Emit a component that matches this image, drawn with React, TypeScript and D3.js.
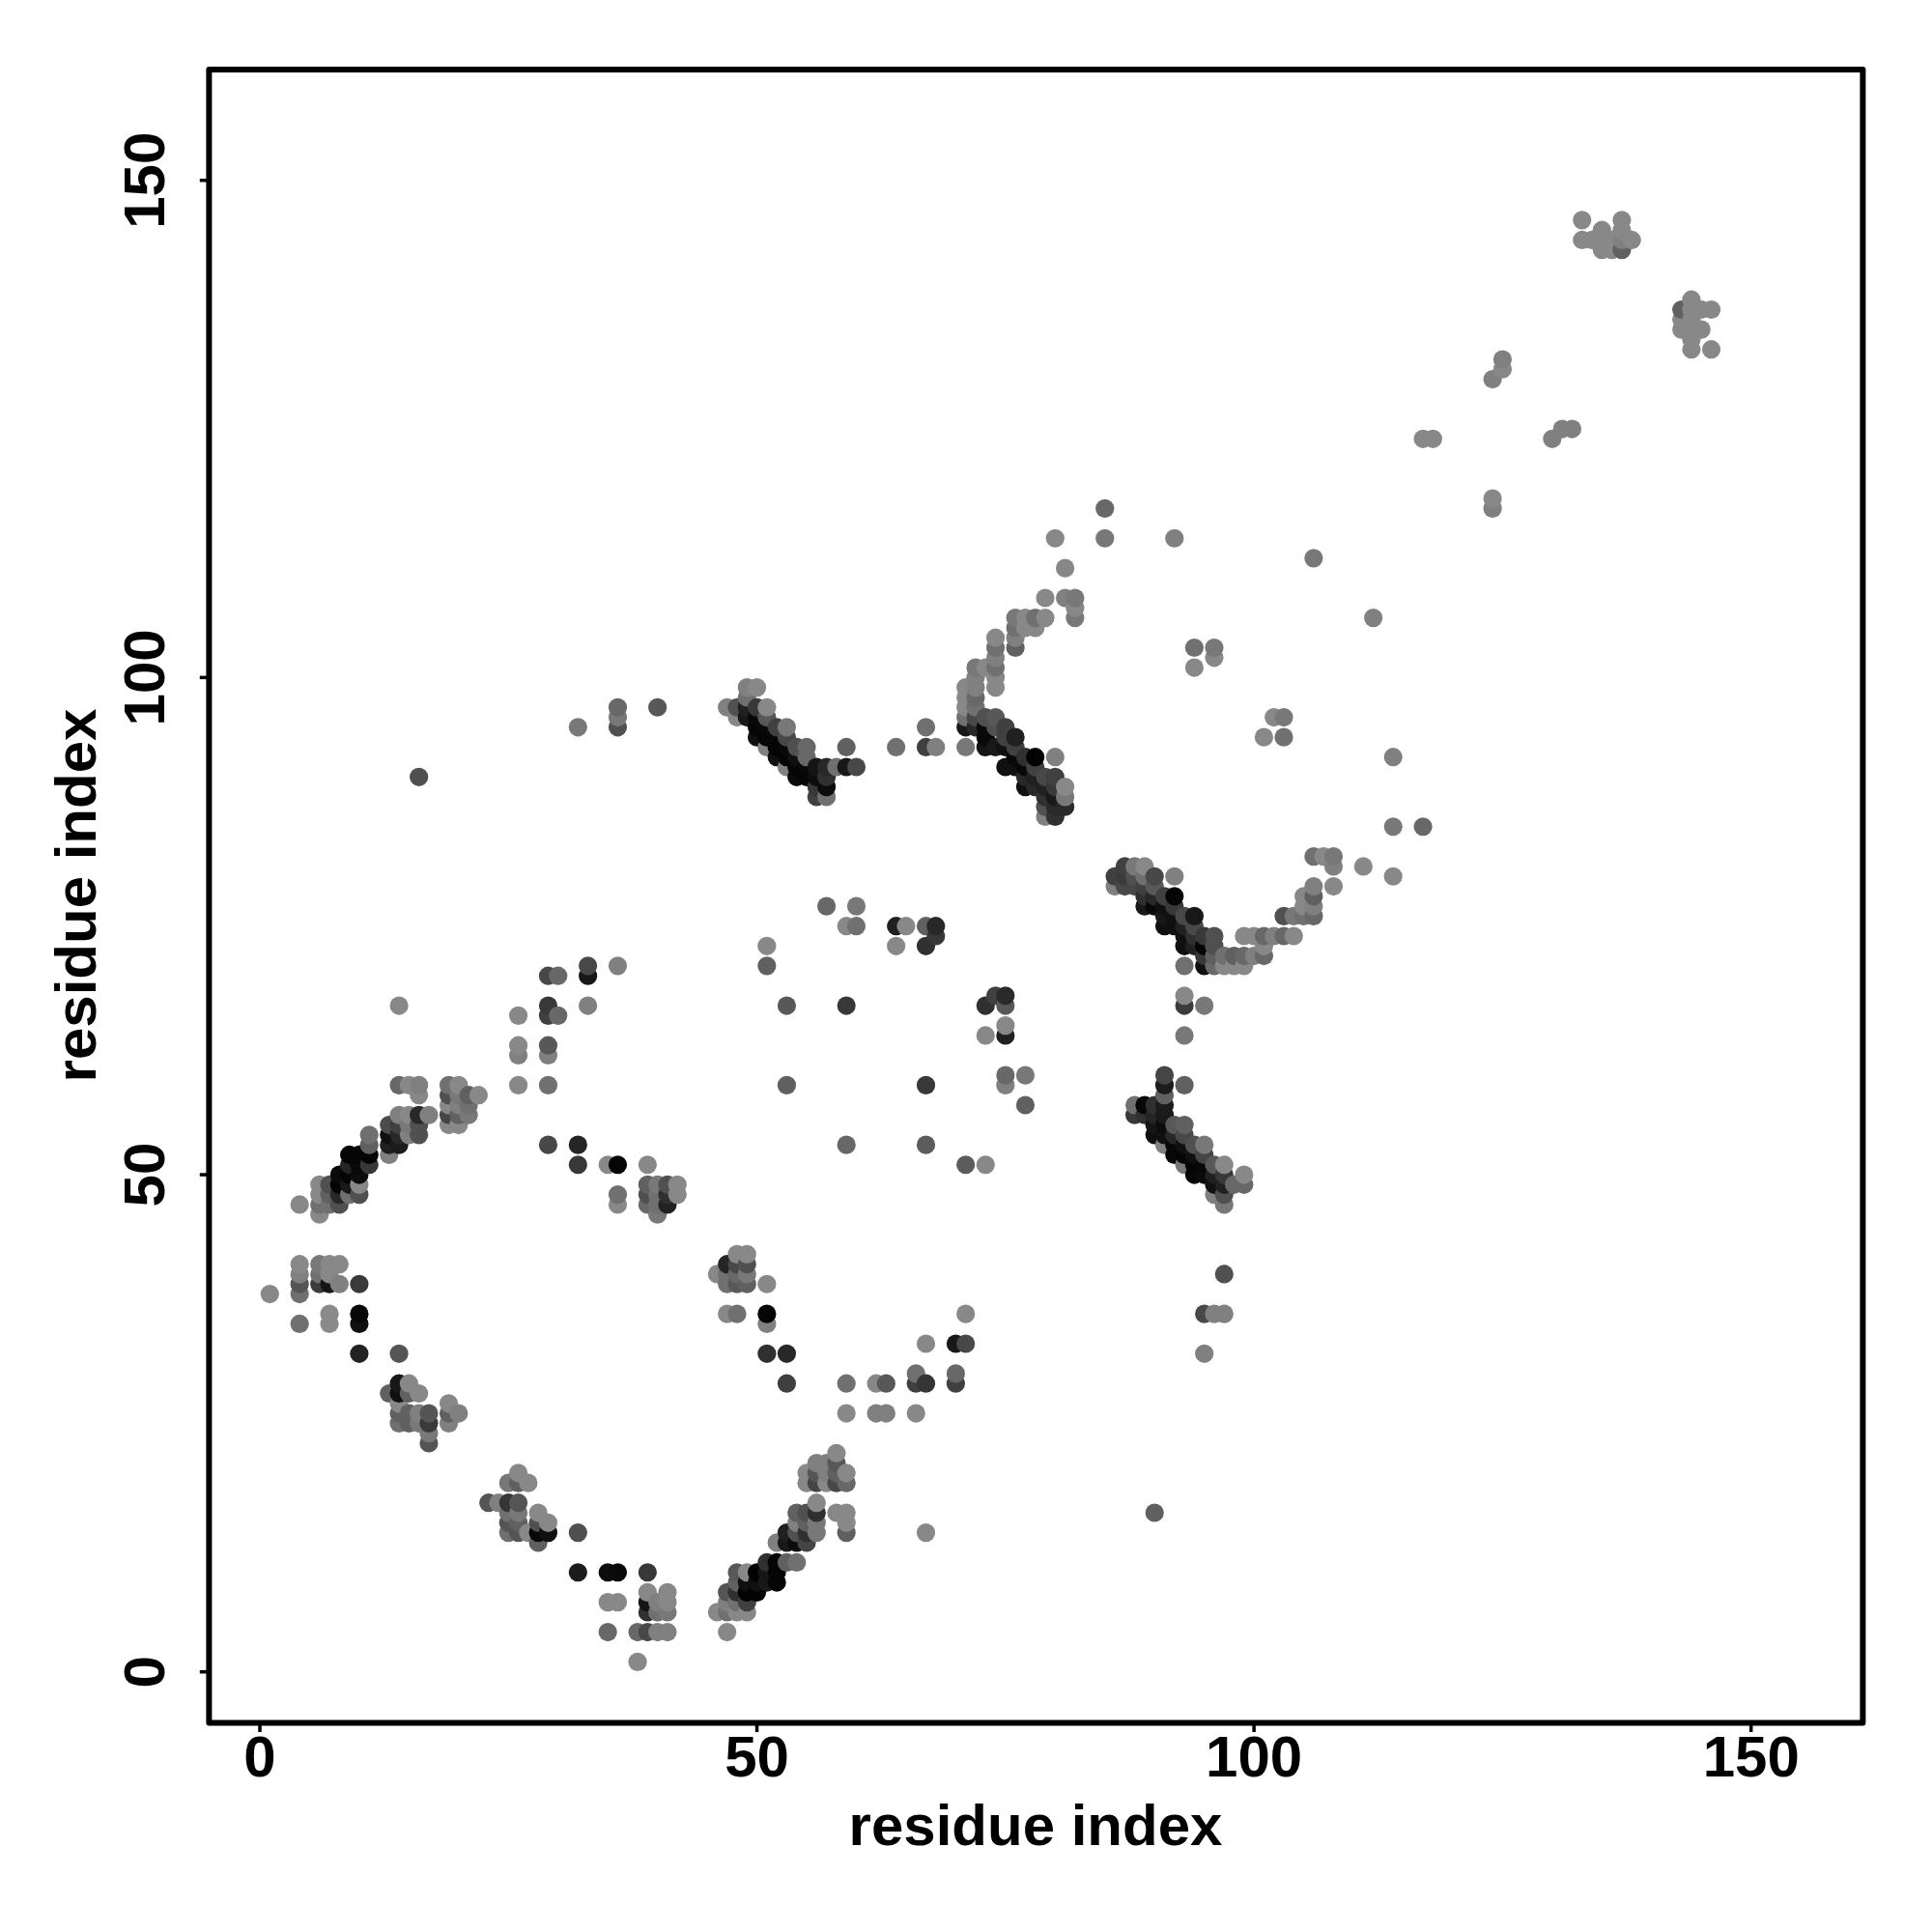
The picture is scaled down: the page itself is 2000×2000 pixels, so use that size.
import React from "react";
import * as d3 from "d3";

const xTicks = [0, 50, 100, 150];
const yTicks = [0, 50, 100, 150];
const xTitle = "residue index";
const yTitle = "residue index";

// [residue i, residue j, grey level]
const contacts: [number, number, number][] = [
  [1,38,0x88],
  [4,35,0x70],[4,38,0x70],[4,39,0x55],[4,40,0x80],[4,41,0x88],[4,47,0x88],
  [6,39,0x3c],[6,40,0x70],[6,41,0x78],[6,46,0x88],[6,47,0x70],[6,48,0x88],[6,49,0x88],
  [7,35,0x8a],[7,36,0x8a],[7,39,0x15],[7,40,0x88],[7,41,0x88],[7,47,0x70],[7,48,0x60],[7,49,0x50],
  [8,39,0x80],[8,41,0x88],[8,47,0x50],[8,48,0x28],[8,49,0x05],[8,50,0x0a],
  [9,48,0x70],[9,49,0x18],[9,50,0x05],[9,51,0x25],[9,52,0x05],
  [10,32,0x22],[10,35,0x10],[10,36,0x08],[10,39,0x3a],[10,48,0x50],[10,49,0x88],[10,50,0x0c],[10,51,0x08],[10,52,0x05],
  [11,51,0x38],[11,52,0x05],[11,53,0x60],[11,54,0x70],
  [13,28,0x60],[13,52,0x80],[13,53,0x20],[13,54,0x10],[13,55,0x4c],
  [14,25,0x70],[14,26,0x60],[14,27,0x88],[14,28,0x10],[14,29,0x18],[14,32,0x55],[14,53,0x1c],[14,54,0x28],[14,55,0x40],[14,56,0x80],[14,59,0x68],[14,67,0x88],
  [15,25,0x60],[15,26,0x60],[15,28,0x60],[15,29,0x88],[15,54,0x80],[15,55,0x78],[15,56,0x88],[15,59,0x88],
  [16,25,0x78],[16,26,0x80],[16,28,0x88],[16,54,0x50],[16,55,0x50],[16,56,0x28],[16,58,0x88],[16,59,0x80],[16,90,0x50],
  [17,23,0x55],[17,24,0x78],[17,25,0x3a],[17,26,0x55],[17,56,0x80],
  [19,25,0x80],[19,26,0x60],[19,27,0x88],[19,55,0x88],[19,56,0x45],[19,57,0x88],[19,58,0x50],[19,59,0x70],
  [20,26,0x80],[20,55,0x88],[20,56,0x60],[20,57,0x80],[20,58,0x78],[20,59,0x88],
  [21,56,0x78],[21,57,0x70],[21,58,0x60],
  [22,58,0x88],
  [23,17,0x55],
  [24,17,0x80],
  [25,14,0x70],[25,15,0x55],[25,16,0x70],[25,17,0x35],[25,19,0x78],
  [26,14,0x55],[26,15,0x60],[26,16,0x78],[26,17,0x55],[26,19,0x60],[26,20,0x88],[26,59,0x88],[26,62,0x80],[26,63,0x88],[26,66,0x88],
  [27,14,0x88],[27,19,0x88],
  [28,13,0x60],[28,14,0x08],[28,15,0x50],[28,16,0x88],
  [29,14,0x10],[29,15,0x88],[29,53,0x48],[29,59,0x70],[29,62,0x80],[29,63,0x58],[29,66,0x40],[29,67,0x38],[29,70,0x48],
  [30,66,0x68],[30,70,0x68],
  [32,10,0x1c],[32,14,0x50],[32,51,0x38],[32,53,0x25],[32,95,0x78],
  [33,67,0x80],[33,70,0x18],[33,71,0x48],
  [35,4,0x68],[35,7,0x88],[35,10,0x0c],[35,51,0x88],
  [36,7,0x88],[36,10,0x0a],[36,47,0x88],[36,48,0x70],[36,51,0x05],[36,71,0x80],[36,95,0x50],[36,96,0x78],[36,97,0x68],
  [38,1,0x88],[38,4,0x68],
  [39,4,0x48],[39,6,0x30],[39,7,0x15],[39,8,0x88],[39,10,0x38],[39,47,0x68],[39,48,0x50],[39,49,0x60],[39,51,0x88],
  [40,4,0x80],[40,6,0x70],[40,7,0x80],[40,46,0x78],[40,47,0x70],[40,48,0x70],[40,49,0x78],[40,97,0x58],
  [41,4,0x80],[41,6,0x78],[41,7,0x88],[41,8,0x88],[41,47,0x22],[41,48,0x30],[41,49,0x50],
  [42,48,0x88],[42,49,0x88],
  [46,6,0x88],[46,40,0x88],
  [47,4,0x88],[47,6,0x70],[47,7,0x80],[47,8,0x55],[47,36,0x88],[47,39,0x70],[47,40,0x70],[47,41,0x25],[47,97,0x80],
  [48,6,0x88],[48,7,0x70],[48,8,0x30],[48,9,0x60],[48,10,0x58],[48,36,0x70],[48,39,0x58],[48,40,0x68],[48,41,0x48],[48,42,0x88],[48,96,0x88],[48,97,0x50],
  [49,6,0x88],[49,7,0x40],[49,8,0x03],[49,9,0x10],[49,10,0x88],[49,39,0x60],[49,40,0x78],[49,41,0x50],[49,42,0x88],[49,96,0x18],[49,97,0x20],[49,98,0x70],[49,99,0x80],
  [50,8,0x03],[50,9,0x10],[50,10,0x02],[50,94,0x10],[50,95,0x05],[50,96,0x08],[50,97,0x38],[50,99,0x88],
  [51,9,0x18],[51,10,0x15],[51,11,0x30],[51,32,0x30],[51,35,0x80],[51,36,0x05],[51,39,0x88],[51,71,0x60],[51,73,0x88],[51,93,0x80],[51,94,0x05],[51,95,0x08],[51,96,0x58],[51,97,0x88],
  [52,9,0x05],[52,10,0x05],[52,11,0x05],[52,13,0x80],[52,92,0x10],[52,93,0x05],[52,94,0x05],[52,95,0x40],
  [53,11,0x60],[53,13,0x18],[53,14,0x20],[53,29,0x40],[53,32,0x28],[53,59,0x60],[53,67,0x58],[53,91,0x80],[53,92,0x05],[53,93,0x08],[53,94,0x48],[53,95,0x78],
  [54,11,0x70],[54,13,0x0c],[54,14,0x50],[54,15,0x80],[54,16,0x60],[54,90,0x0a],[54,91,0x05],[54,92,0x10],[54,93,0x50],
  [55,13,0x45],[55,14,0x30],[55,15,0x60],[55,16,0x50],[55,19,0x88],[55,20,0x88],[55,90,0x05],[55,91,0x08],[55,92,0x68],[55,93,0x68],
  [56,14,0x78],[56,15,0x78],[56,16,0x30],[56,17,0x88],[56,19,0x45],[56,20,0x55],[56,21,0x80],[56,88,0x40],[56,89,0x38],[56,90,0x0c],[56,91,0x15],
  [57,19,0x88],[57,20,0x80],[57,21,0x80],[57,77,0x68],[57,88,0x70],[57,89,0x0c],[57,90,0x30],[57,91,0x28],
  [58,16,0x88],[58,19,0x48],[58,20,0x60],[58,21,0x58],[58,22,0x88],[58,91,0x70],
  [59,14,0x60],[59,15,0x88],[59,16,0x88],[59,19,0x68],[59,20,0x88],[59,26,0x88],[59,29,0x70],[59,53,0x68],[59,67,0x38],[59,75,0x88],[59,91,0x18],[59,93,0x60],
  [60,75,0x70],[60,77,0x78],[60,91,0x48],
  [62,26,0x80],[62,29,0x88],
  [63,26,0x80],[63,29,0x58],
  [64,73,0x88],[64,75,0x20],[64,93,0x70],
  [65,75,0x88],
  [66,26,0x88],[66,29,0x40],[66,30,0x70],
  [67,14,0x88],[67,29,0x35],[67,33,0x88],[67,53,0x5c],[67,59,0x38],[67,73,0x30],[67,75,0x60],[67,93,0x40],[67,95,0x70],
  [68,74,0x38],[68,75,0x28],[68,93,0x80],
  [70,29,0x40],[70,30,0x68],[70,33,0x18],
  [71,33,0x48],[71,36,0x88],[71,51,0x5c],[71,93,0x78],[71,95,0x18],[71,96,0x70],[71,97,0x88],[71,98,0x88],[71,99,0x88],
  [72,95,0x28],[72,96,0x48],[72,97,0x70],[72,98,0x68],[72,99,0x80],[72,100,0x80],[72,101,0x78],
  [73,51,0x88],[73,64,0x88],[73,67,0x30],[73,93,0x15],[73,94,0x08],[73,95,0x0a],[73,96,0x50],[73,101,0x88],
  [74,68,0x40],[74,93,0x18],[74,95,0x50],[74,96,0x58],[74,99,0x88],[74,100,0x88],[74,101,0x70],[74,102,0x80],[74,103,0x70],[74,104,0x88],
  [75,59,0x80],[75,60,0x68],[75,64,0x20],[75,65,0x88],[75,67,0x58],[75,68,0x2a],[75,91,0x10],[75,93,0x10],[75,94,0x40],[75,95,0x40],
  [76,91,0x10],[76,92,0x08],[76,93,0x40],[76,94,0x20],[76,103,0x60],[76,104,0x80],[76,105,0x70],[76,106,0x78],
  [77,57,0x60],[77,60,0x78],[77,89,0x10],[77,90,0x28],[77,91,0x08],[77,92,0x30],[77,105,0x88],[77,106,0x88],
  [78,89,0x28],[78,90,0x20],[78,91,0x40],[78,92,0x02],[78,105,0x88],[78,106,0x70],
  [79,86,0x80],[79,87,0x50],[79,88,0x30],[79,89,0x20],[79,90,0x48],[79,106,0x88],[79,108,0x88],
  [80,86,0x30],[80,87,0x2a],[80,88,0x18],[80,89,0x38],[80,90,0x40],[80,92,0x80],[80,114,0x88],
  [81,87,0x2a],[81,88,0x78],[81,89,0x88],[81,108,0x80],[81,111,0x88],
  [82,106,0x78],[82,107,0x88],[82,108,0x78],
  [85,114,0x78],[85,117,0x68],
  [86,79,0x80],[86,80,0x40],
  [87,79,0x48],[87,80,0x3a],[87,81,0x40],
  [88,56,0x38],[88,57,0x70],[88,79,0x48],[88,80,0x50],[88,81,0x78],
  [89,56,0x30],[89,57,0x08],[89,77,0x18],[89,78,0x30],[89,79,0x40],[89,80,0x70],[89,81,0x88],
  [90,16,0x60],[90,54,0x10],[90,55,0x15],[90,56,0x25],[90,57,0x30],[90,77,0x08],[90,78,0x28],[90,79,0x58],[90,80,0x48],
  [91,53,0x80],[91,54,0x10],[91,55,0x0c],[91,56,0x1a],[91,57,0x1c],[91,58,0x60],[91,59,0x1c],[91,60,0x45],[91,75,0x10],[91,76,0x18],[91,77,0x10],[91,78,0x40],
  [92,52,0x08],[92,53,0x08],[92,54,0x28],[92,55,0x58],[92,75,0x10],[92,76,0x10],[92,77,0x38],[92,78,0x05],[92,80,0x80],[92,114,0x80],
  [93,51,0x78],[93,52,0x05],[93,53,0x10],[93,54,0x48],[93,55,0x60],[93,59,0x60],[93,64,0x78],[93,67,0x3c],[93,68,0x88],[93,71,0x70],[93,73,0x10],[93,74,0x10],[93,75,0x20],[93,76,0x48],
  [94,50,0x08],[94,51,0x05],[94,52,0x10],[94,53,0x50],[94,73,0x20],[94,74,0x30],[94,75,0x48],[94,76,0x18],[94,101,0x88],[94,103,0x70],
  [95,32,0x80],[95,36,0x48],[95,50,0x0a],[95,51,0x08],[95,52,0x45],[95,53,0x78],[95,67,0x78],[95,71,0x10],[95,72,0x38],[95,73,0x05],[95,74,0x38],
  [96,36,0x80],[96,48,0x80],[96,49,0x10],[96,50,0x20],[96,51,0x58],[96,71,0x68],[96,72,0x60],[96,73,0x50],[96,74,0x50],[96,102,0x88],[96,103,0x78],
  [97,36,0x80],[97,40,0x50],[97,47,0x78],[97,48,0x50],[97,49,0x20],[97,50,0x38],[97,51,0x88],[97,71,0x88],[97,72,0x70],
  [98,49,0x68],[98,71,0x88],[98,72,0x60],
  [99,49,0x68],[99,50,0x88],[99,71,0x88],[99,72,0x68],[99,74,0x88],
  [100,72,0x80],[100,74,0x88],
  [101,72,0x68],[101,73,0x88],[101,74,0x68],[101,94,0x88],
  [102,74,0x80],[102,96,0x88],
  [103,74,0x68],[103,76,0x50],[103,94,0x70],[103,96,0x78],
  [104,74,0x88],[104,76,0x78],
  [105,76,0x70],[105,77,0x88],[105,78,0x88],
  [106,76,0x68],[106,77,0x80],[106,78,0x60],[106,79,0x80],[106,82,0x70],[106,112,0x78],
  [107,82,0x88],
  [108,79,0x88],[108,81,0x80],[108,82,0x78],
  [111,81,0x88],
  [112,106,0x80],
  [114,80,0x88],[114,85,0x78],[114,92,0x80],
  [117,85,0x68],[117,124,0x88],
  [118,124,0x88],
  [124,117,0x80],[124,118,0x88],[124,130,0x80],
  [125,131,0x88],[125,132,0x80],
  [130,124,0x80],
  [131,125,0x80],
  [132,125,0x80],
  [133,144,0x88],[133,146,0x88],
  [134,144,0x88],
  [135,143,0x88],[135,144,0x88],[135,145,0x88],
  [136,143,0x88],[136,144,0x88],
  [137,143,0x60],[137,144,0x80],[137,145,0x88],[137,146,0x88],
  [138,144,0x88],
  [143,135,0x88],[143,136,0x88],[143,137,0x60],
  [144,133,0x88],[144,134,0x88],[144,135,0x88],[144,136,0x88],[144,137,0x88],[144,138,0x88],
  [145,135,0x88],[145,137,0x88],
  [146,133,0x88],[146,137,0x88],
];

const x = d3.scaleLinear().domain([0, 150]).range([269, 1812.7]);
const y = d3.scaleLinear().domain([0, 150]).range([1730.7, 186.7]);
const FONT = "'Liberation Sans', Arial, sans-serif";

export default function App() {
  const sorted = d3.sort(contacts, (a, b) => d3.ascending(a[0], b[0]) || d3.ascending(a[1], b[1]));
  return (
    <svg width={2000} height={2000} viewBox="0 0 2000 2000"
      style={{ position: "absolute", left: 0, top: 0, background: "#fff" }}>
      {sorted.map(([i, j, g], k) => (
        <circle key={k} cx={x(i)} cy={y(j)} r={9.6} fill={d3.rgb(g, g, g).formatHex()} />
      ))}
      <rect x={216.4} y={72} width={1712} height={1711.6} fill="none" stroke="#000" strokeWidth={6} strokeLinejoin="round" />
      {xTicks.map((t) => (
        <g key={t}>
          <line x1={x(t)} x2={x(t)} y1={1783.6} y2={1793} stroke="#000" strokeWidth={3.5} />
          <text x={x(t)} y={1839} textAnchor="middle" fontFamily={FONT} fontWeight="bold" fontSize={60}>{t}</text>
        </g>
      ))}
      {yTicks.map((t) => (
        <g key={t}>
          <line x1={216.4} x2={206.8} y1={y(t)} y2={y(t)} stroke="#000" strokeWidth={3.5} />
          <text transform={`translate(170,${y(t)}) rotate(-90)`} textAnchor="middle" fontFamily={FONT} fontWeight="bold" fontSize={60}>{t}</text>
        </g>
      ))}
      <text x={1072} y={1910} textAnchor="middle" fontFamily={FONT} fontWeight="bold" fontSize={60}>{xTitle}</text>
      <text transform="translate(99,927) rotate(-90)" textAnchor="middle" fontFamily={FONT} fontWeight="bold" fontSize={60}>{yTitle}</text>
    </svg>
  );
}
